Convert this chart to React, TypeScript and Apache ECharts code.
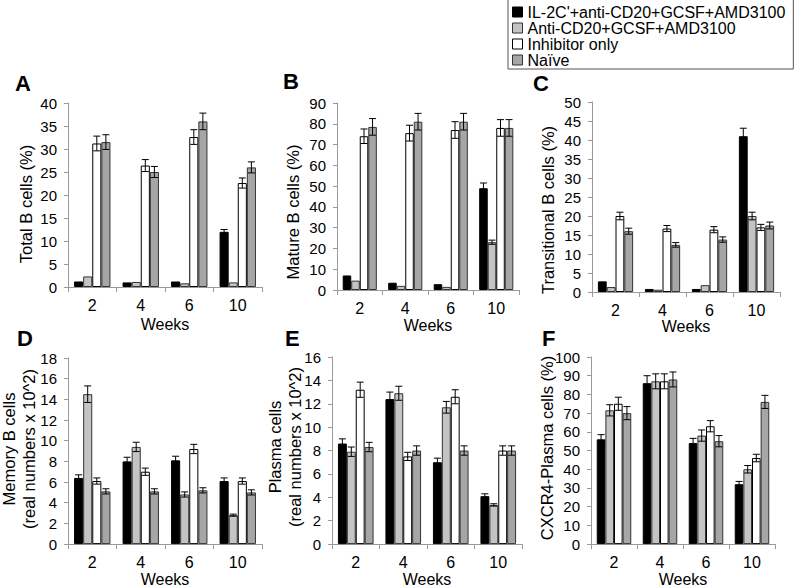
import React, { useEffect, useRef } from "react";
import * as echarts from "echarts";

const weeks = ["2", "4", "6", "10"];
const seriesNames = [
  "IL-2C'+anti-CD20+GCSF+AMD3100",
  "Anti-CD20+GCSF+AMD3100",
  "Inhibitor only",
  "Naïve",
];

// Panel A: Total B cells (%)
const totalBMeans = [
  [1.2, 1.0, 1.2, 12.0],
  [2.3, 1.1, 0.8, 1.0],
  [31.2, 26.4, 32.6, 22.6],
  [31.5, 25.0, 36.0, 26.0],
];
const totalBErrors = [
  [0, 0, 0, 0.5],
  [0, 0, 0, 0],
  [1.6, 1.3, 1.6, 1.1],
  [1.6, 1.2, 1.8, 1.2],
];

// Panel B: Mature B cells (%)
const matureBMeans = [
  [7.0, 3.5, 2.8, 49.0],
  [4.5, 2.0, 1.5, 23.0],
  [74.0, 75.5, 77.0, 78.0],
  [78.5, 81.0, 81.0, 78.0],
];
const matureBErrors = [
  [0, 0, 0, 2.5],
  [0, 0, 0, 1.0],
  [3.5, 3.8, 4.0, 4.0],
  [4.0, 4.0, 4.0, 4.0],
];

// Panel C: Transitional B cells (%)
const transBMeans = [
  [2.8, 0.8, 0.8, 41.0],
  [1.3, 0.6, 1.8, 20.0],
  [20.0, 16.7, 16.4, 17.0],
  [16.0, 12.4, 13.8, 17.5],
];
const transBErrors = [
  [0, 0, 0, 2.1],
  [0, 0, 0, 1.0],
  [1.0, 0.8, 0.8, 0.8],
  [0.8, 0.6, 0.7, 0.9],
];

// Panel D: Memory B cells (real numbers x 10^2)
const memoryBMeans = [
  [6.4, 8.0, 8.1, 6.1],
  [14.5, 9.4, 4.8, 2.8],
  [6.1, 7.0, 9.2, 6.1],
  [5.1, 5.1, 5.2, 5.0],
];
const memoryBErrors = [
  [0.3, 0.4, 0.4, 0.3],
  [0.8, 0.45, 0.25, 0.1],
  [0.3, 0.35, 0.45, 0.3],
  [0.25, 0.25, 0.25, 0.25],
];

// Panel E: Plasma cells (real numbers x 10^2)
const plasmaMeans = [
  [8.6, 12.4, 7.0, 4.1],
  [7.9, 12.9, 11.7, 3.35],
  [13.2, 7.5, 12.6, 8.0],
  [8.3, 8.0, 8.0, 8.0],
];
const plasmaErrors = [
  [0.4, 0.6, 0.35, 0.2],
  [0.4, 0.6, 0.5, 0.1],
  [0.65, 0.35, 0.6, 0.4],
  [0.4, 0.4, 0.4, 0.4],
];

// Panel F: CXCR4-Plasma cells (%)
const cxcr4Means = [
  [56, 86, 54, 32],
  [71.5, 87, 58, 40],
  [75, 87, 63, 46],
  [70, 88, 55, 76],
];
const cxcr4Errors = [
  [2.5, 4, 2.5, 1.5],
  [3, 4, 3, 2],
  [3.5, 4, 3, 2],
  [3.5, 4, 3, 3.5],
];

const FONT = "'Liberation Sans', Arial, Helvetica, sans-serif";
const CAT_GAP = 0.25;
const barColors = ["#000000", "#c4c4c4", "#ffffff", "#a6a6a6"];
const barBorders = ["#000000", "#333333", "#000000", "#333333"];

type Panel = {
  letter: string;
  name: string;
  max: number;
  interval: number;
  means: number[][];
  errors: number[][];
  grid: { left: number; top: number; width: number; height: number };
  namePos: [number, number];
  weeksGap: number;
  letterPos: [number, number];
};

const panels: Panel[] = [
  {
    letter: "A",
    name: "Total B cells (%)",
    max: 40,
    interval: 5,
    means: totalBMeans,
    errors: totalBErrors,
    grid: { left: 68, top: 103, width: 194, height: 184 },
    namePos: [26, 204],
    weeksGap: 29,
    letterPos: [15, 72],
  },
  {
    letter: "B",
    name: "Mature B cells (%)",
    max: 90,
    interval: 10,
    means: matureBMeans,
    errors: matureBErrors,
    grid: { left: 337, top: 103, width: 182, height: 187 },
    namePos: [293, 212],
    weeksGap: 27,
    letterPos: [283, 70],
  },
  {
    letter: "C",
    name: "Transitional B cells (%)",
    max: 50,
    interval: 5,
    means: transBMeans,
    errors: transBErrors,
    grid: { left: 592, top: 102, width: 188, height: 190 },
    namePos: [548, 210],
    weeksGap: 25,
    letterPos: [533, 72],
  },
  {
    letter: "D",
    name: "Memory B cells\n(real numbers x 10^2)",
    max: 18,
    interval: 2,
    means: memoryBMeans,
    errors: memoryBErrors,
    grid: { left: 68, top: 358, width: 194, height: 187 },
    namePos: [19, 449],
    weeksGap: 22,
    letterPos: [17, 327],
  },
  {
    letter: "E",
    name: "Plasma cells\n(real numbers x 10^2)",
    max: 16,
    interval: 2,
    means: plasmaMeans,
    errors: plasmaErrors,
    grid: { left: 332, top: 357, width: 190, height: 188 },
    namePos: [285, 447],
    weeksGap: 21,
    letterPos: [285, 327],
  },
  {
    letter: "F",
    name: "CXCR4-Plasma cells (%)",
    max: 100,
    interval: 10,
    means: cxcr4Means,
    errors: cxcr4Errors,
    grid: { left: 591, top: 357, width: 184, height: 188 },
    namePos: [547, 448],
    weeksGap: 21,
    letterPos: [542, 327],
  },
];

function buildOption() {
  const grids: any[] = [];
  const xAxes: any[] = [];
  const yAxes: any[] = [];
  const series: any[] = [];
  const graphics: any[] = [];

  panels.forEach((p, pi) => {
    grids.push({ ...p.grid, containLabel: false });
    xAxes.push({
      type: "category",
      gridIndex: pi,
      data: weeks,
      name: "Weeks",
      nameLocation: "middle",
      nameGap: p.weeksGap,
      nameTextStyle: { fontSize: 16, color: "#000", fontFamily: FONT, verticalAlign: "top" },
      axisLine: { lineStyle: { color: "#9a9a9a", width: 1 } },
      axisTick: { show: true, length: 5, lineStyle: { color: "#9a9a9a" } },
      axisLabel: { fontSize: 16, color: "#000", margin: 10, fontFamily: FONT },
      splitLine: { show: false },
    });
    yAxes.push({
      type: "value",
      gridIndex: pi,
      min: 0,
      max: p.max,
      interval: p.interval,
      axisLine: { show: true, lineStyle: { color: "#9a9a9a", width: 1 } },
      axisTick: { show: true, length: 4, lineStyle: { color: "#9a9a9a" } },
      axisLabel: { fontSize: 15, color: "#000", margin: 11, fontFamily: FONT },
      splitLine: { show: false },
    });

    p.means.forEach((vals, si) => {
      series.push({
        type: "bar",
        name: seriesNames[si],
        xAxisIndex: pi,
        yAxisIndex: pi,
        data: vals,
        barGap: "0%",
        barCategoryGap: CAT_GAP * 100 + "%",
        itemStyle: { color: barColors[si], borderColor: barBorders[si], borderWidth: 1 },
      });
    });

    const errData: number[][] = [];
    p.means.forEach((vals, si) => {
      vals.forEach((v, ci) => {
        errData.push([ci, v, p.errors[si][ci], si]);
      });
    });
    series.push({
      type: "custom",
      name: "err" + pi,
      xAxisIndex: pi,
      yAxisIndex: pi,
      z: 5,
      data: errData,
      encode: { x: 0, y: 1 },
      renderItem: (params: any, api: any) => {
        const ci = api.value(0);
        const v = api.value(1);
        const e = api.value(2);
        const si = api.value(3);
        if (!e) return { type: "group", children: [] };
        const band = api.size([1, 0])[0];
        const barW = (band * (1 - CAT_GAP)) / 4;
        const cx = api.coord([ci, v])[0] + (si - 1.5) * barW;
        const yTop = api.coord([ci, v + e])[1];
        const yBot = api.coord([ci, Math.max(0, v - e)])[1];
        const cap = 3.5;
        const style = { stroke: "#000", lineWidth: 1 };
        return {
          type: "group",
          children: [
            { type: "line", shape: { x1: cx, y1: yTop, x2: cx, y2: yBot }, style },
            { type: "line", shape: { x1: cx - cap, y1: yTop, x2: cx + cap, y2: yTop }, style },
            { type: "line", shape: { x1: cx - cap, y1: yBot, x2: cx + cap, y2: yBot }, style },
          ],
        };
      },
    });

    graphics.push({
      type: "text",
      left: p.letterPos[0],
      top: p.letterPos[1],
      style: { text: p.letter, font: `bold 22px ${FONT}`, fill: "#000" },
    });
    graphics.push({
      type: "text",
      x: p.namePos[0],
      y: p.namePos[1],
      rotation: Math.PI / 2,
      style: {
        text: p.name,
        font: `16.5px ${FONT}`,
        fill: "#000",
        align: "center",
        verticalAlign: "middle",
        lineHeight: 20,
      },
    });
  });

  return {
    animation: false,
    backgroundColor: "#ffffff",
    textStyle: { fontFamily: FONT },
    legend: {
      data: seriesNames,
      orient: "vertical",
      left: 508,
      top: -1,
      padding: [5, 8, 1, 4],
      itemGap: 0,
      itemWidth: 10,
      itemHeight: 10,
      icon: "rect",
      borderColor: "#555",
      borderWidth: 1,
      selectedMode: false,
      textStyle: { fontSize: 16, color: "#000", fontFamily: FONT, lineHeight: 15 },
      itemStyle: { borderWidth: 1 },
    },
    grid: grids,
    xAxis: xAxes,
    yAxis: yAxes,
    series,
    graphic: graphics,
  };
}

export default function App() {
  const ref = useRef<HTMLDivElement>(null);
  useEffect(() => {
    document.body.style.margin = "0";
    if (!ref.current) return;
    const chart = echarts.init(ref.current, undefined, { renderer: "svg" });
    chart.setOption(buildOption() as any);
    return () => chart.dispose();
  }, []);
  return <div ref={ref} style={{ width: 800, height: 588 }} />;
}
